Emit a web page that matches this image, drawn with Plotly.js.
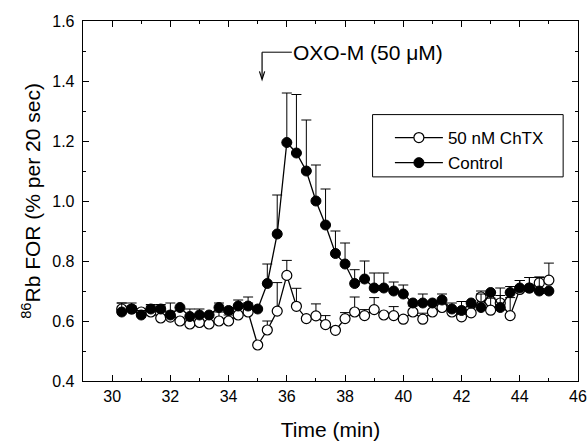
<!DOCTYPE html>
<html>
<head>
<meta charset="utf-8">
<script src="https://cdn.plot.ly/plotly-3.0.1.min.js"></script>
<style>html,body{margin:0;padding:0;background:#fff;}#chart{width:588px;height:447px;}</style>
</head>
<body>
<div id="chart"></div>
<script>
// Time points (min), one every 20 s
const timeMin = [30.33,30.67,31.00,31.33,31.67,32.00,32.33,32.67,33.00,33.33,33.67,34.00,34.33,34.67,35.00,
  35.33,35.67,36.00,36.33,36.67,37.00,37.33,37.67,38.00,38.33,38.67,39.00,39.33,39.67,40.00,
  40.33,40.67,41.00,41.33,41.67,42.00,42.33,42.67,43.00,43.33,43.67,44.00,44.33,44.67,45.00];

// 50 nM ChTX (open circles)
const chtxValues = [0.64,0.64,0.63,0.63,0.61,0.613,0.60,0.59,0.595,0.59,0.60,0.60,0.62,0.63,0.52,
  0.57,0.633,0.752,0.649,0.608,0.617,0.588,0.569,0.608,0.63,0.618,0.638,0.62,0.618,0.606,
  0.63,0.606,0.63,0.645,0.63,0.614,0.627,0.68,0.636,0.66,0.618,0.705,0.71,0.727,0.736];
const chtxErrUp = [0.02,0.01,0,0.02,0.04,0.02,0,0.03,0.02,0,0.03,0.02,0.03,0.03,0,
  0.03,0.095,0.05,0.06,0,0.04,0.03,0,0.02,0.05,0.02,0.04,0,0.03,0,
  0.02,0.02,0.03,0,0.03,0,0.02,0.02,0.04,0.05,0.06,0.03,0.035,0.02,0.057];

// Control (filled circles)
const controlValues = [0.63,0.64,0.62,0.64,0.64,0.62,0.645,0.615,0.62,0.62,0.645,0.635,0.65,0.65,0.64,
  0.725,0.89,1.195,1.16,1.10,1.00,0.92,0.825,0.79,0.725,0.74,0.71,0.71,0.70,0.69,
  0.66,0.66,0.66,0.67,0.64,0.635,0.66,0.645,0.695,0.645,0.695,0.71,0.71,0.70,0.70];
const controlErrUp = [0.03,0.02,0.015,0.015,0.015,0.04,0,0.025,0.02,0,0.015,0,0.02,0.03,0,
  0.065,0.13,0.165,0.195,0.17,0.12,0.12,0.075,0.07,0.046,0.06,0.05,0.05,0.03,0.03,
  0,0.03,0,0.02,0,0.03,0,0.045,0,0.04,0.02,0.025,0.035,0.045,0];

// OXO-M application marker
const oxoTime = 35.15;
const oxoLabel = 'OXO-M (50 μM)';

const zeros = timeMin.map(() => 0);
const FONT = 'Liberation Sans, Arial, Helvetica, sans-serif';

const traces = [
  {
    x: timeMin, y: chtxValues, name: '50 nM ChTX', type: 'scatter', mode: 'lines+markers',
    line: {color: '#000', width: 1.3},
    marker: {symbol: 'circle', size: 10, color: '#fff', line: {color: '#000', width: 1.2}},
    error_y: {type: 'data', symmetric: false, array: chtxErrUp, arrayminus: zeros,
      color: '#000', thickness: 1, width: 5}
  },
  {
    x: timeMin, y: controlValues, name: 'Control', type: 'scatter', mode: 'lines+markers',
    line: {color: '#000', width: 1.3},
    marker: {symbol: 'circle', size: 10, color: '#000', line: {color: '#000', width: 1}},
    error_y: {type: 'data', symmetric: false, array: controlErrUp, arrayminus: zeros,
      color: '#000', thickness: 1, width: 5}
  }
];

const layout = {
  width: 588, height: 447,
  margin: {l: 83, r: 10, t: 21, b: 66},
  paper_bgcolor: '#fff', plot_bgcolor: '#fff',
  font: {family: FONT, color: '#000', size: 16},
  showlegend: true,
  legend: {x: 0.62, y: 0.725, xanchor: 'left', yanchor: 'top', bgcolor: 'rgba(0,0,0,0)',
    borderwidth: 0, font: {family: FONT, size: 17, color: '#000'}, itemwidth: 48, traceorder: 'normal'},
  xaxis: {
    range: [29, 46], tick0: 30, dtick: 2, ticks: 'inside', ticklen: 6, tickwidth: 1,
    tickcolor: '#000', showline: true, linecolor: '#000', linewidth: 1.3, mirror: 'ticks',
    showgrid: false, zeroline: false, tickfont: {family: FONT, size: 16},
    minor: {dtick: 1, tick0: 29, ticks: 'inside', ticklen: 3, tickcolor: '#000', showgrid: false},
    title: {text: 'Time (min)', font: {family: FONT, size: 21}, standoff: 18}
  },
  yaxis: {
    range: [0.4, 1.6], tick0: 0.4, dtick: 0.2, tickformat: '.1f', ticks: 'inside', ticklen: 6,
    tickwidth: 1, tickcolor: '#000', showline: true, linecolor: '#000', linewidth: 1.3,
    mirror: 'ticks', showgrid: false, zeroline: false, tickfont: {family: FONT, size: 16},
    ticklabelstandoff: 4,
    minor: {dtick: 0.1, tick0: 0.4, ticks: 'inside', ticklen: 3, tickcolor: '#000', showgrid: false},
    title: {text: '<sup>86</sup>Rb FOR (% per 20 sec)', font: {family: FONT, size: 21}, standoff: 6}
  },
  shapes: [
    {type: 'rect', xref: 'paper', yref: 'paper', x0: 0.585, x1: 0.97, y0: 0.567, y1: 0.74,
      line: {color: '#000', width: 1}, fillcolor: 'rgba(0,0,0,0)', layer: 'above'},
    {type: 'line', xref: 'x', yref: 'y', x0: oxoTime, x1: oxoTime, y0: 1.496, y1: 1.412,
      line: {color: '#000', width: 1.2}},
    {type: 'path', xref: 'x', yref: 'y',
      path: 'M ' + (oxoTime - 0.09) + ',1.432 L ' + oxoTime + ',1.405 L ' + (oxoTime + 0.09) + ',1.432',
      line: {color: '#000', width: 1.2}, fillcolor: 'rgba(0,0,0,0)'}
  ],
  annotations: [
    {x: oxoTime, y: 1.496, xref: 'x', yref: 'y', ax: 38.8, ay: 1.496, axref: 'x', ayref: 'y',
      text: oxoLabel, showarrow: true, arrowhead: 0, arrowwidth: 1, arrowcolor: '#000',
      standoff: 0, font: {family: FONT, size: 21, color: '#000'}}
  ]
};

Plotly.newPlot('chart', traces, layout, {displayModeBar: false, staticPlot: true});
</script>
</body>
</html>
